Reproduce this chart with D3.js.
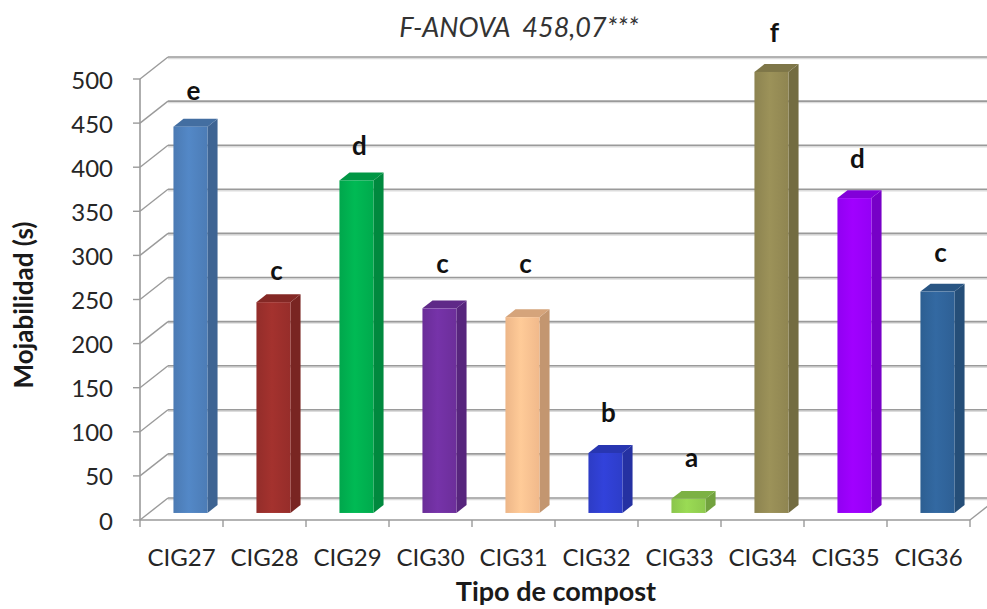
<!DOCTYPE html>
<html>
<head>
<meta charset="utf-8">
<script src="https://cdn.jsdelivr.net/npm/d3@7"></script>
<style>
body { margin: 0; background: #fff; }
text { font-family: Lato, "Open Sans", sans-serif; }
</style>
</head>
<body>
<div id="main"></div>
<script>
// data
const categories = ["CIG27", "CIG28", "CIG29", "CIG30", "CIG31", "CIG32", "CIG33", "CIG34", "CIG35", "CIG36"];
const values = [438, 239, 377, 232, 222, 68, 16, 500, 357, 251];
const letters = ["e", "c", "d", "c", "c", "b", "a", "f", "d", "c"];
const letterAt = [475, 271, 413, 279, 279, 110, 59, 541, 398, 291];   // letter height, in seconds
const barColors = ["#4f81bd", "#9b2f2c", "#00b050", "#7030a0", "#fac090", "#2f3fd0", "#92d050", "#948a54", "#9900ff", "#30649a"];
const yTicks = [0, 50, 100, 150, 200, 250, 300, 350, 400, 450, 500];
const title = "F-ANOVA  458,07***";

const ctx = {
    width: 987, height: 609,
    left: 140, right: 970, top: 79, bottom: 520,
    dx: 28, dy: -22,      // depth of the walls
    f0: 0.32, f1: 0.68    // bars sit in the middle of the depth
};

function createViz() {
    const svg = d3.select("#main").append("svg")
        .attr("width", ctx.width)
        .attr("height", ctx.height);

    const x = d3.scaleBand()
        .domain(categories)
        .range([ctx.left, ctx.right])
        .paddingInner(0.59)
        .paddingOuter(0.295);

    const y = d3.scaleLinear()
        .domain([0, 500])
        .range([ctx.bottom, ctx.top]);

    const grid = "#9a9a9a";

    // back wall grid lines, with a soft shadow
    svg.append("g").selectAll("line.shadow")
        .data(yTicks).enter().append("line")
        .attr("x1", ctx.left + ctx.dx).attr("x2", ctx.right + ctx.dx + 40)
        .attr("y1", d => y(d) + ctx.dy + 1.5).attr("y2", d => y(d) + ctx.dy + 1.5)
        .style("stroke", "#dcdcdc").style("stroke-width", 1.5);
    svg.append("g").selectAll("line")
        .data(yTicks).enter().append("line")
        .attr("x1", ctx.left + ctx.dx).attr("x2", ctx.right + ctx.dx + 40)
        .attr("y1", d => y(d) + ctx.dy).attr("y2", d => y(d) + ctx.dy)
        .style("stroke", grid).style("stroke-width", 1.6);

    // left wall diagonals
    svg.append("g").selectAll("line")
        .data(yTicks).enter().append("line")
        .attr("x1", ctx.left).attr("x2", ctx.left + ctx.dx)
        .attr("y1", d => y(d)).attr("y2", d => y(d) + ctx.dy)
        .style("stroke", grid).style("stroke-width", 1.4);

    // floor edges
    svg.append("line")
        .attr("x1", ctx.left).attr("x2", ctx.right)
        .attr("y1", y(0)).attr("y2", y(0))
        .style("stroke", grid).style("stroke-width", 1.6);
    svg.append("line")
        .attr("x1", ctx.right).attr("x2", ctx.right + ctx.dx)
        .attr("y1", y(0)).attr("y2", y(0) + ctx.dy)
        .style("stroke", grid).style("stroke-width", 1.4);

    // front axis line + ticks
    svg.append("line")
        .attr("x1", ctx.left).attr("x2", ctx.left)
        .attr("y1", y(500)).attr("y2", y(0))
        .style("stroke", grid).style("stroke-width", 1.6);
    svg.append("g").selectAll("line")
        .data(yTicks).enter().append("line")
        .attr("x1", ctx.left - 7).attr("x2", ctx.left)
        .attr("y1", d => y(d)).attr("y2", d => y(d))
        .style("stroke", grid).style("stroke-width", 1.4);
    const step = x.step();
    svg.append("g").selectAll("line")
        .data(d3.range(categories.length + 1)).enter().append("line")
        .attr("x1", d => ctx.left + d * step).attr("x2", d => ctx.left + d * step)
        .attr("y1", y(0)).attr("y2", y(0) + 7)
        .style("stroke", grid).style("stroke-width", 1.4);

    // gradients for the bar fronts
    const defs = svg.append("defs");
    barColors.forEach((c, i) => {
        const g = defs.append("linearGradient").attr("id", "g" + i)
            .attr("x1", "0%").attr("x2", "100%").attr("y1", "0%").attr("y2", "0%");
        g.append("stop").attr("offset", "0%").attr("stop-color", d3.color(c).darker(0.15));
        g.append("stop").attr("offset", "45%").attr("stop-color", d3.color(c).brighter(0.15));
        g.append("stop").attr("offset", "100%").attr("stop-color", d3.color(c).darker(0.1));
    });

    // bars
    const bw = x.bandwidth();
    const ddx = ctx.dx * (ctx.f1 - ctx.f0), ddy = ctx.dy * (ctx.f1 - ctx.f0);
    const bars = svg.append("g").selectAll("g")
        .data(categories).enter().append("g");

    bars.each(function (d, i) {
        const g = d3.select(this);
        const x0 = x(d) + ctx.dx * ctx.f0;
        const top = y(values[i]) + ctx.dy * ctx.f0;
        const bot = y(0) + ctx.dy * ctx.f0;
        const c = d3.color(barColors[i]);

        g.append("polygon")
            .attr("points", [[x0 + bw, top], [x0 + bw + ddx, top + ddy], [x0 + bw + ddx, bot + ddy], [x0 + bw, bot]].join(" "))
            .style("fill", c.darker(0.7));
        g.append("polygon")
            .attr("points", [[x0, top], [x0 + ddx, top + ddy], [x0 + bw + ddx, top + ddy], [x0 + bw, top]].join(" "))
            .style("fill", c.darker(0.45));
        g.append("rect")
            .attr("x", x0).attr("y", top)
            .attr("width", bw).attr("height", bot - top)
            .style("fill", "url(#g" + i + ")");
    });

    // significance letters
    svg.append("g").selectAll("text")
        .data(letters).enter().append("text")
        .attr("x", (d, i) => x(categories[i]) + bw / 2 + 12)
        .attr("y", (d, i) => y(letterAt[i]) - 11)
        .attr("text-anchor", "middle")
        .attr("dominant-baseline", "central")
        .style("font-size", "26px").style("font-weight", "bold").style("fill", "#111")
        .text(d => d);

    // y tick labels
    svg.append("g").selectAll("text")
        .data(yTicks).enter().append("text")
        .attr("x", 113).attr("y", d => y(d))
        .attr("text-anchor", "end").attr("dominant-baseline", "central")
        .style("font-size", "24px").style("fill", "#262626")
        .text(d => d);

    // x tick labels
    svg.append("g").selectAll("text")
        .data(categories).enter().append("text")
        .attr("x", d => x(d) + bw / 2).attr("y", 566)
        .attr("text-anchor", "middle")
        .style("font-size", "24px").style("fill", "#262626")
        .text(d => d);

    // titles
    svg.append("text")
        .attr("x", 519).attr("y", 37)
        .attr("text-anchor", "middle")
        .attr("xml:space", "preserve")
        .style("white-space", "pre")
        .style("font-size", "27px").style("font-style", "italic").style("fill", "#333")
        .text(title);

    svg.append("text")
        .attr("transform", "translate(33,305) rotate(-90)")
        .attr("text-anchor", "middle")
        .style("font-size", "26px").style("font-weight", "bold").style("fill", "#1a1a1a")
        .text("Mojabilidad (s)");

    svg.append("text")
        .attr("x", 556).attr("y", 601)
        .attr("text-anchor", "middle")
        .style("font-size", "27px").style("font-weight", "bold").style("fill", "#1a1a1a")
        .text("Tipo de compost");
}

createViz();
</script>
</body>
</html>
